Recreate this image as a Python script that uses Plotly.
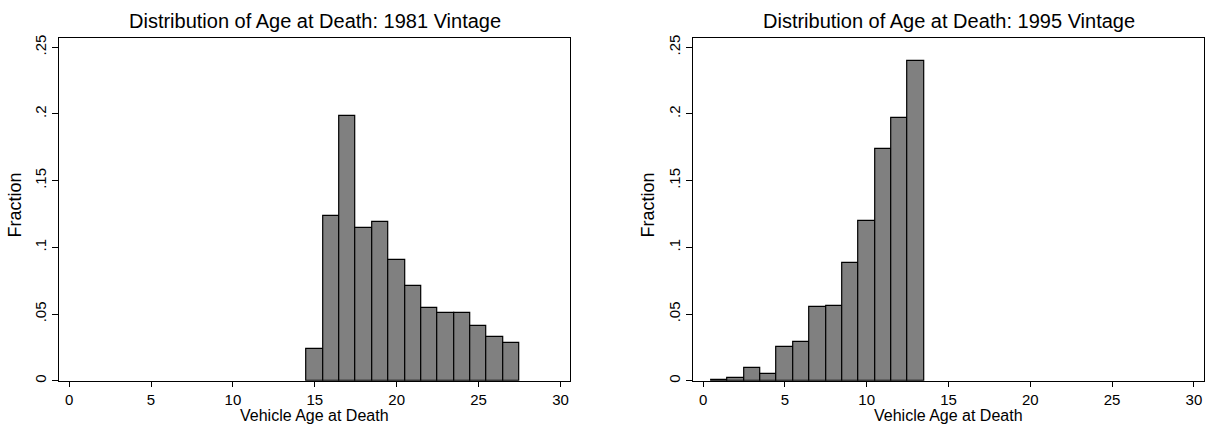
import plotly.graph_objects as go

# ---------------- data ----------------
ages_1981 = [15, 16, 17, 18, 19, 20, 21, 22, 23, 24, 25, 26, 27]
frac_1981 = [0.024, 0.1238, 0.1985, 0.1144, 0.1193, 0.0903, 0.0710, 0.0547,
             0.0510, 0.0507, 0.0413, 0.0332, 0.0287]

ages_1995 = [1, 2, 3, 4, 5, 6, 7, 8, 9, 10, 11, 12, 13]
frac_1995 = [0.0006, 0.0024, 0.0094, 0.0051, 0.0252, 0.0292, 0.0552, 0.0562,
             0.0883, 0.1199, 0.1738, 0.1970, 0.2394]

x_ticks = [0, 5, 10, 15, 20, 25, 30]
y_ticks = [0, 0.05, 0.10, 0.15, 0.20, 0.25]
y_tick_labels = ["0", ".05", ".1", ".15", ".2", ".25"]

titles = ["Distribution of Age at Death: 1981 Vintage",
          "Distribution of Age at Death: 1995 Vintage"]
x_title = "Vehicle Age at Death"
y_title = "Fraction"

# ---------------- layout geometry (pixels) ----------------
W, H = 1205, 427
plot_top, plot_bottom = 35.3, 382.3
left_dom = (59.3, 570.3)
right_dom = (693.3, 1203.7)

FONT = "Liberation Sans, Arial, Helvetica, sans-serif"

def px_x(p):
    return p / W

def px_y(p):
    return 1 - p / H

fig = go.Figure()

bar_style = dict(marker=dict(color="#808080", line=dict(color="black", width=1.2)),
                 width=1.0, showlegend=False, hoverinfo="x+y")

fig.add_trace(go.Bar(x=ages_1981, y=frac_1981, xaxis="x", yaxis="y", **bar_style))
fig.add_trace(go.Bar(x=ages_1995, y=frac_1995, xaxis="x2", yaxis="y2", **bar_style))

common_x = dict(range=[-0.6, 30.6], tickvals=x_ticks, ticks="outside", ticklen=5,
                tickwidth=1, tickcolor="black", showline=True, linecolor="black",
                linewidth=1, mirror=True, showgrid=False, zeroline=False,
                tickfont=dict(family=FONT, size=15, color="black"))
common_y = dict(range=[0, 0.257], tickvals=y_ticks, ticktext=y_tick_labels,
                ticks="outside", ticklen=6, tickwidth=1, tickcolor="black",
                showline=True, linecolor="black", linewidth=1, mirror=True,
                showgrid=False, zeroline=False, tickangle=-90,
                tickfont=dict(family=FONT, size=15, color="black"))

y_dom = [px_y(plot_bottom), px_y(plot_top)]

fig.update_layout(
    width=W, height=H,
    margin=dict(l=0, r=0, t=0, b=0),
    paper_bgcolor="white", plot_bgcolor="white",
    bargap=0,
    font=dict(family=FONT, color="black"),
    xaxis=dict(domain=[px_x(left_dom[0]), px_x(left_dom[1])], anchor="y", **common_x),
    yaxis=dict(domain=y_dom, anchor="x", **common_y),
    xaxis2=dict(domain=[px_x(right_dom[0]), px_x(right_dom[1])], anchor="y2", **common_x),
    yaxis2=dict(domain=y_dom, anchor="x2", **common_y),
)

annotations = []
for dom, title, ylab_x in [(left_dom, titles[0], 15), (right_dom, titles[1], 648)]:
    cx = (dom[0] + dom[1]) / 2
    annotations.append(dict(text=title, x=px_x(cx), y=px_y(18), xref="paper", yref="paper",
                            xanchor="center", yanchor="middle", showarrow=False,
                            font=dict(family=FONT, size=20, color="black")))
    annotations.append(dict(text=x_title, x=px_x(cx), y=0, xref="paper", yref="paper",
                            xanchor="center", yanchor="bottom", showarrow=False, borderpad=0,
                            font=dict(family=FONT, size=16, color="black")))
    annotations.append(dict(text=y_title, x=px_x(ylab_x), y=px_y(205), xref="paper", yref="paper",
                            xanchor="center", yanchor="middle", showarrow=False, textangle=-90,
                            font=dict(family=FONT, size=18, color="black")))
fig.update_layout(annotations=annotations)

fig.write_html("out.html",
               config={"displayModeBar": False},
               post_script="document.body.style.margin='0';document.body.style.overflow='hidden';")
